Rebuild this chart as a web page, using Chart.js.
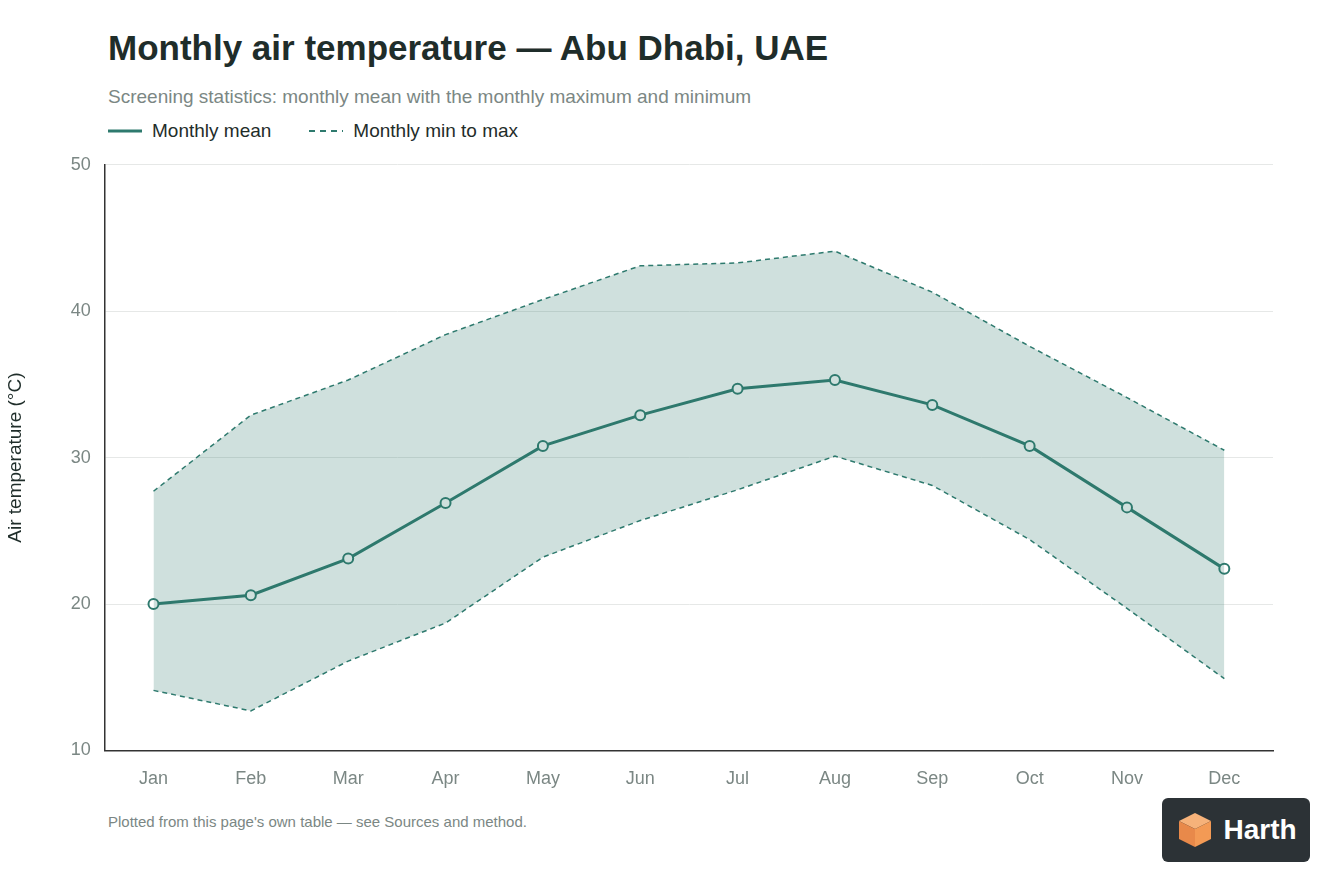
<!DOCTYPE html>
<html>
<head>
<meta charset="utf-8">
<script src="https://cdn.jsdelivr.net/npm/chart.js@4"></script>
<style>
  body { margin: 0; background: #fff; font-family: "Helvetica Neue", Arial, "Liberation Sans", sans-serif; }
  #wrap { position: relative; width: 1344px; height: 896px; }
  h1 { position: absolute; left: 108px; top: 28px; margin: 0; font-size: 35px; font-weight: 700; color: #1f2d2a; }
  .sub { position: absolute; left: 108px; top: 86px; font-size: 19px; color: #7b8784; }
  .legend { position: absolute; left: 108px; top: 120px; font-size: 19px; color: #1f2d2a; display: flex; gap: 38px; }
  .legend span { display: inline-flex; align-items: center; gap: 10px; }
  .foot { position: absolute; left: 108px; top: 813px; font-size: 15px; color: #7b8784; }
  #chartBox { position: absolute; left: 0; top: 140px; width: 1280px; height: 660px; }
  .logo { position: absolute; left: 1162px; top: 798px; width: 148px; height: 64px; background: #2c3236; border-radius: 6px; display: flex; align-items: center; justify-content: center; gap: 8px; color: #fff; font-size: 28px; font-weight: 700; }
</style>
</head>
<body>
<div id="wrap">
  <h1>Monthly air temperature — Abu Dhabi, UAE</h1>
  <div class="sub">Screening statistics: monthly mean with the monthly maximum and minimum</div>
  <div class="legend">
    <span><svg width="34" height="4"><line x1="0" y1="2" x2="34" y2="2" stroke="#2e7a6e" stroke-width="3"/></svg>Monthly mean</span>
    <span><svg width="34" height="4"><line x1="0" y1="2" x2="34" y2="2" stroke="#2e7a6e" stroke-width="2" stroke-dasharray="6,5"/></svg>Monthly min to max</span>
  </div>
  <div id="chartBox"><canvas id="c"></canvas></div>
  <div class="foot">Plotted from this page's own table — see Sources and method.</div>
  <div class="logo">
    <svg width="40" height="40" viewBox="0 0 40 40">
      <polygon points="20,3 36,11 20,19 4,11" fill="#f6b27a"/>
      <polygon points="4,11 20,19 20,37 4,29" fill="#e8894a"/>
      <polygon points="36,11 20,19 20,37 36,29" fill="#f39a55"/>
    </svg>Harth
  </div>
</div>
<script>
const months = ["Jan","Feb","Mar","Apr","May","Jun","Jul","Aug","Sep","Oct","Nov","Dec"];
const meanTemp = [20.0, 20.6, 23.1, 26.9, 30.8, 32.9, 34.7, 35.3, 33.6, 30.8, 26.6, 22.4];
const maxTemp = [27.7, 32.9, 35.3, 38.4, 40.8, 43.1, 43.3, 44.1, 41.3, 37.6, 34.1, 30.5];
const minTemp = [14.1, 12.7, 16.1, 18.7, 23.2, 25.7, 27.8, 30.1, 28.1, 24.4, 19.7, 14.9];
const yTicks = [10, 20, 30, 40, 50];

const teal = "#2e7a6e";

new Chart(document.getElementById("c"), {
  type: "line",
  data: {
    labels: months,
    datasets: [
      { data: maxTemp, borderColor: teal, borderWidth: 1.5, borderDash: [5, 4], pointRadius: 0, fill: false, tension: 0 },
      { data: minTemp, borderColor: teal, borderWidth: 1.5, borderDash: [5, 4], pointRadius: 0, fill: "-1", backgroundColor: "rgba(46,122,110,0.23)", tension: 0 },
      { data: meanTemp, borderColor: teal, borderWidth: 3, pointRadius: 5, pointBorderWidth: 2, pointBackgroundColor: "#fff", pointBorderColor: teal, fill: false, tension: 0 }
    ]
  },
  options: {
    responsive: true,
    maintainAspectRatio: false,
    animation: false,
    layout: { padding: { top: 10 } },
    plugins: { legend: { display: false }, tooltip: { enabled: false } },
    scales: {
      x: {
        offset: true,
        grid: { display: false },
        border: { color: "#333", width: 1.5 },
        ticks: { color: "#7b8784", font: { size: 18 }, padding: 10 }
      },
      y: {
        min: 10, max: 50,
        afterBuildTicks: s => { s.ticks = yTicks.map(v => ({ value: v })); },
        grid: { color: "#e6e8e7", drawTicks: false },
        border: { color: "#333", width: 1.5 },
        ticks: { color: "#7b8784", font: { size: 18 }, padding: 14 },
        title: { display: true, text: "Air temperature (°C)", color: "#1f2d2a", font: { size: 19 }, padding: { bottom: 30 } }
      }
    }
  }
});
</script>
</body>
</html>
